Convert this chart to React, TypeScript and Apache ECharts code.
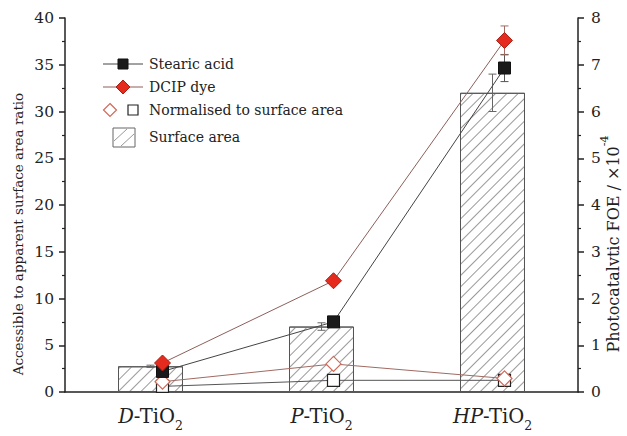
import { useEffect, useRef } from "react";
import * as echarts from "echarts";

const categories = ["D-TiO2", "P-TiO2", "HP-TiO2"];
const surfaceArea = [2.75, 7.0, 32.0];
const surfaceAreaErr = [0.12, 0.4, 2.0];
const stearicAcid = [0.44, 1.5, 6.93];
const stearicErr = [0, 0, 0.29];
const dcipDye = [0.62, 2.38, 7.52];
const dcipErr = [0, 0, 0.31];
const normDcip = [0.22, 0.6, 0.29];
const normStearic = [0.12, 0.25, 0.25];
const legendLabels = ["Stearic acid", "DCIP dye", "Normalised to surface area", "Surface area"];
const leftAxisName = "Accessible to apparent surface area ratio";
const rightAxisName = "Photocatalvtic FOE / ×10";
const rightAxisExp = "-4";

const FONT = "DejaVu Serif";
const AXIS = "#222";

function errorSeries(name: string, values: number[], errs: number[], color: string, xAxisIndex: number, yAxisIndex: number, z: number) {
  const data = values.map((v, i) => [i, v - errs[i], v + errs[i], errs[i]]);
  return {
    name,
    type: "custom",
    xAxisIndex,
    yAxisIndex,
    z,
    encode: { x: 0, y: [1, 2] },
    data,
    renderItem: (_p: any, api: any) => {
      if (!(api.value(3) > 0)) return { type: "group", children: [] };
      const i = api.value(0);
      const top = api.coord([i, api.value(2)]);
      const bot = api.coord([i, api.value(1)]);
      const w = 4;
      const style = { stroke: color, lineWidth: 1 };
      return {
        type: "group",
        children: [
          { type: "line", shape: { x1: top[0], y1: top[1], x2: bot[0], y2: bot[1] }, style },
          { type: "line", shape: { x1: top[0] - w, y1: top[1], x2: top[0] + w, y2: top[1] }, style },
          { type: "line", shape: { x1: bot[0] - w, y1: bot[1], x2: bot[0] + w, y2: bot[1] }, style },
        ],
      };
    },
  };
}

function diamond(cx: number, cy: number, r: number) {
  return [[cx, cy - r], [cx + r, cy], [cx, cy + r], [cx - r, cy]];
}

export default function App() {
  const ref = useRef<HTMLDivElement>(null);
  useEffect(() => {
    if (!ref.current) return;
    const chart = echarts.init(ref.current, null, { renderer: "svg" });
    const lx = 149;
    const rows = [64, 87, 110, 137];
    const textStyle = (t: string, y: number) => ({
      type: "text",
      x: lx,
      y,
      style: { text: t, fontFamily: FONT, fontSize: 14, fill: "#222", verticalAlign: "middle", align: "left" },
      z: 100,
    });
    const option: any = {
      animation: false,
      backgroundColor: "#fff",
      grid: [
        { left: 65, right: 49, top: 18, bottom: 44 },
        { left: 77, right: 37, top: 18, bottom: 44 },
      ],
      xAxis: [
        {
          type: "category",
          gridIndex: 0,
          data: categories,
          axisLine: { lineStyle: { color: AXIS, width: 1.5 } },
          axisTick: { alignWithLabel: true, length: 7, lineStyle: { color: AXIS, width: 1.5 } },
          axisLabel: {
            margin: 14,
            formatter: (v: string) => {
              const parts = v.split("-");
              const m = parts[1].match(/^(.*?)(\d+)$/);
              return `{i|${parts[0]}}{n|-${m ? m[1] : parts[1]}}{s|${m ? m[2] : ""}}`;
            },
            rich: {
              i: { fontFamily: FONT, fontSize: 19.5, fontStyle: "italic", color: "#222", lineHeight: 26, verticalAlign: "top" },
              n: { fontFamily: FONT, fontSize: 19.5, color: "#222", lineHeight: 26, verticalAlign: "top" },
              s: { fontFamily: FONT, fontSize: 12.5, color: "#222", lineHeight: 12, verticalAlign: "bottom" },
            },
          },
        },
        {
          type: "category",
          gridIndex: 0,
          data: categories,
          position: "bottom",
          axisLine: { show: false },
          axisTick: { length: 3, lineStyle: { color: AXIS, width: 1.2 } },
          axisLabel: { show: false },
        },
        {
          type: "category",
          gridIndex: 1,
          data: categories,
          show: false,
        },
      ],
      yAxis: [
        {
          type: "value",
          gridIndex: 0,
          min: 0,
          max: 40,
          interval: 5,
          axisLine: { show: true, lineStyle: { color: AXIS, width: 1.5 } },
          axisTick: { show: true, length: 6, lineStyle: { color: AXIS, width: 1.5 } },
          minorTick: { show: true, splitNumber: 2, length: 3, lineStyle: { color: AXIS, width: 1.2 } },
          axisLabel: { fontFamily: FONT, fontSize: 15.5, color: "#222", margin: 11 },
          splitLine: { show: false },
        },
        {
          type: "value",
          gridIndex: 0,
          position: "right",
          min: 0,
          max: 8,
          interval: 1,
          axisLine: { show: true, lineStyle: { color: AXIS, width: 1.5 } },
          axisTick: { show: true, length: 6, lineStyle: { color: AXIS, width: 1.5 } },
          minorTick: { show: true, splitNumber: 2, length: 3, lineStyle: { color: AXIS, width: 1.2 } },
          axisLabel: { fontFamily: FONT, fontSize: 15.5, color: "#222", margin: 13 },
          splitLine: { show: false },
        },
        {
          type: "value",
          gridIndex: 1,
          min: 0,
          max: 8,
          interval: 1,
          show: false,
        },
      ],
      series: [
        {
          name: "Surface area",
          type: "bar",
          xAxisIndex: 0,
          yAxisIndex: 0,
          barWidth: "38%",
          data: surfaceArea,
          z: 2,
          itemStyle: {
            color: "#fff",
            borderColor: "#555",
            borderWidth: 1,
            decal: {
              symbol: "rect",
              symbolSize: 1,
              dashArrayX: [1, 0],
              dashArrayY: [1, 7],
              rotation: -Math.PI / 4,
              color: "#999",
              backgroundColor: "#fff",
            },
          },
        },
        errorSeries("Surface area error", surfaceArea, surfaceAreaErr, "#666", 0, 0, 3),
        {
          name: "Normalised stearic acid",
          type: "line",
          xAxisIndex: 2,
          yAxisIndex: 2,
          data: normStearic,
          symbol: "rect",
          symbolSize: 12,
          z: 5,
          lineStyle: { color: "#555", width: 1 },
          itemStyle: { color: "#fff", borderColor: "#222", borderWidth: 1.2 },
        },
        {
          name: "Normalised DCIP dye",
          type: "line",
          xAxisIndex: 2,
          yAxisIndex: 2,
          data: normDcip,
          symbol: "diamond",
          symbolSize: 15,
          z: 6,
          lineStyle: { color: "#a06a62", width: 1 },
          itemStyle: { color: "#fff", borderColor: "#cf6a5a", borderWidth: 1.2 },
        },
        errorSeries("Stearic acid error", stearicAcid, stearicErr, "#555", 2, 2, 7),
        {
          name: "Stearic acid",
          type: "line",
          xAxisIndex: 2,
          yAxisIndex: 2,
          data: stearicAcid,
          symbol: "rect",
          symbolSize: 12,
          z: 8,
          lineStyle: { color: "#444", width: 1 },
          itemStyle: { color: "#1a1a1a", borderColor: "#111", borderWidth: 1 },
        },
        errorSeries("DCIP dye error", dcipDye, dcipErr, "#a06a62", 2, 2, 9),
        {
          name: "DCIP dye",
          type: "line",
          xAxisIndex: 2,
          yAxisIndex: 2,
          data: dcipDye,
          symbol: "diamond",
          symbolSize: 16,
          z: 10,
          lineStyle: { color: "#8c5f5a", width: 1 },
          itemStyle: { color: "#e52a1e", borderColor: "#a52015", borderWidth: 1 },
        },
      ],
      graphic: [
        {
          type: "text",
          x: 18,
          y: 234,
          rotation: Math.PI / 2,
          style: { text: leftAxisName, fontFamily: FONT, fontSize: 13.5, fill: "#222", align: "center", verticalAlign: "middle" },
        },
        {
          type: "text",
          x: 610,
          y: 244,
          rotation: Math.PI / 2,
          style: {
            text: `{a|${rightAxisName}}{b|${rightAxisExp}}`,
            align: "center",
            verticalAlign: "middle",
            rich: {
              a: { fontFamily: FONT, fontSize: 16, fill: "#222", lineHeight: 22, verticalAlign: "bottom" },
              b: { fontFamily: FONT, fontSize: 11, fill: "#222", lineHeight: 11, verticalAlign: "top" },
            },
          },
        },
        { type: "line", shape: { x1: 103, y1: rows[0], x2: 143, y2: rows[0] }, style: { stroke: "#444", lineWidth: 1 }, z: 100 },
        { type: "rect", shape: { x: 118, y: rows[0] - 5, width: 10, height: 10 }, style: { fill: "#1a1a1a", stroke: "#111" }, z: 101 },
        textStyle(legendLabels[0], rows[0]),
        { type: "line", shape: { x1: 103, y1: rows[1], x2: 143, y2: rows[1] }, style: { stroke: "#8c5f5a", lineWidth: 1 }, z: 100 },
        { type: "polygon", shape: { points: diamond(123, rows[1], 7) }, style: { fill: "#e52a1e", stroke: "#a52015" }, z: 101 },
        textStyle(legendLabels[1], rows[1]),
        { type: "polygon", shape: { points: diamond(110, rows[2], 6.5) }, style: { fill: "#fff", stroke: "#cf6a5a", lineWidth: 1.2 }, z: 101 },
        { type: "rect", shape: { x: 128, y: rows[2] - 5, width: 10, height: 10 }, style: { fill: "#fff", stroke: "#222", lineWidth: 1.2 }, z: 101 },
        textStyle(legendLabels[2], rows[2]),
        { type: "rect", shape: { x: 113, y: rows[3] - 9, width: 22, height: 19 }, style: { fill: "#fff", stroke: "#666", lineWidth: 1 }, z: 101 },
        { type: "line", shape: { x1: 114, y1: rows[3] + 4, x2: 127, y2: rows[3] - 8 }, style: { stroke: "#999", lineWidth: 1 }, z: 102 },
        { type: "line", shape: { x1: 121, y1: rows[3] + 9, x2: 134, y2: rows[3] - 3 }, style: { stroke: "#999", lineWidth: 1 }, z: 102 },
        textStyle(legendLabels[3], rows[3]),
      ],
    };
    chart.setOption(option);
    return () => chart.dispose();
  }, []);
  return <div ref={ref} style={{ width: 627, height: 436, position: "absolute", left: 0, top: 0, background: "#fff" }} />;
}
